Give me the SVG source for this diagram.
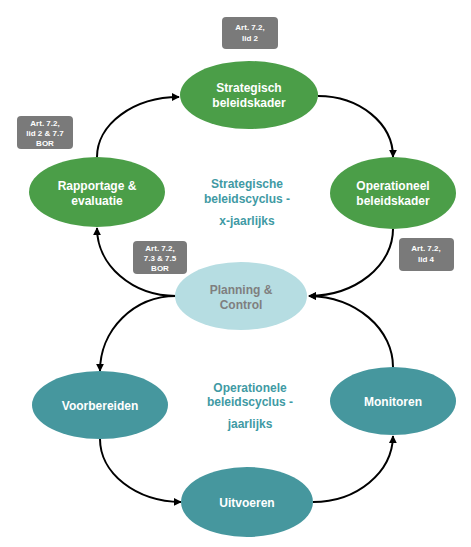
<svg xmlns="http://www.w3.org/2000/svg" width="471" height="547" viewBox="0 0 471 547">
<defs>
<style>
.green{fill:#4b9e48}
.teal{fill:#46979e}
.pc{fill:#b6dde2}
.nt{font-family:"Liberation Sans",Arial,sans-serif;font-weight:bold;font-size:12px;fill:#fff;text-anchor:middle}
.pct{font-family:"Liberation Sans",Arial,sans-serif;font-weight:bold;font-size:12px;fill:#7f7f7f;text-anchor:middle}
.ct{font-family:"Liberation Sans",Arial,sans-serif;font-weight:bold;font-size:12px;fill:#3f9aa4;text-anchor:middle}
.box{fill:#7a7a7a}
.bt{font-family:"Liberation Sans",Arial,sans-serif;font-weight:bold;font-size:8px;fill:#fff;text-anchor:middle}
.c{fill:none;stroke:#000;stroke-width:2;marker-end:url(#ah)}
</style>
<marker id="ah" viewBox="0 0 10 10" refX="9" refY="5" markerWidth="4" markerHeight="4" orient="auto" markerUnits="strokeWidth">
<path d="M0,0 L10,5 L0,10 z" fill="#000"/>
</marker>
</defs>
<rect width="471" height="547" fill="#fff"/>
<g id="connectors">
<path class="c" d="M97,157 A82,60 0 0,1 179,97"/>
<path class="c" d="M318,96 A75,61 0 0,1 393,157"/>
<path class="c" d="M393,229 A85,67 0 0,1 309,296"/>
<path class="c" d="M176,296 A79,68 0 0,1 97,228"/>
<path class="c" d="M176,296 A76,75 0 0,0 100,371"/>
<path class="c" d="M100,439 A82,63 0 0,0 181,502"/>
<path class="c" d="M313,502 A80,67 0 0,0 393,436"/>
<path class="c" d="M393,367 A86,71 0 0,0 309,296"/>
</g>
<g id="strategisch">
<ellipse class="green" cx="249" cy="95" rx="69" ry="34"/>
<text class="nt" x="249" y="92">Strategisch</text>
<text class="nt" x="249" y="107">beleidskader</text>
</g>
<g id="rapportage">
<ellipse class="green" cx="97" cy="192" rx="68" ry="35"/>
<text class="nt" x="97" y="190">Rapportage &amp;</text>
<text class="nt" x="97" y="205">evaluatie</text>
</g>
<g id="operationeel">
<ellipse class="green" cx="393" cy="193" rx="63" ry="36"/>
<text class="nt" x="393" y="190">Operationeel</text>
<text class="nt" x="393" y="205">beleidskader</text>
</g>
<g id="planning">
<ellipse class="pc" cx="241" cy="296" rx="66" ry="34"/>
<text class="pct" x="241" y="294">Planning &amp;</text>
<text class="pct" x="241" y="309">Control</text>
</g>
<g id="voorbereiden">
<ellipse class="teal" cx="100" cy="405" rx="68" ry="34"/>
<text class="nt" x="100" y="410">Voorbereiden</text>
</g>
<g id="monitoren">
<ellipse class="teal" cx="393" cy="401" rx="63" ry="34"/>
<text class="nt" x="393" y="406">Monitoren</text>
</g>
<g id="uitvoeren">
<ellipse class="teal" cx="247" cy="502" rx="66" ry="35"/>
<text class="nt" x="247" y="507">Uitvoeren</text>
</g>
<g id="label-strategisch">
<text class="ct" x="247" y="188">Strategische</text>
<text class="ct" x="247" y="203">beleidscyclus -</text>
<text class="ct" x="247" y="225">x-jaarlijks</text>
</g>
<g id="label-operationeel">
<text class="ct" x="250" y="392">Operationele</text>
<text class="ct" x="250" y="406">beleidscyclus -</text>
<text class="ct" x="250" y="428">jaarlijks</text>
</g>
<g id="box-lid2">
<rect class="box" x="222" y="17" width="56" height="32" rx="4"/>
<text class="bt" x="250" y="30">Art. 7.2,</text>
<text class="bt" x="250" y="41">lid 2</text>
</g>
<g id="box-lid2-77">
<rect class="box" x="17" y="116" width="56" height="33" rx="4"/>
<text class="bt" x="45" y="126">Art. 7.2,</text>
<text class="bt" x="45" y="136">lid 2 &amp; 7.7</text>
<text class="bt" x="45" y="146">BOR</text>
</g>
<g id="box-73-75">
<rect class="box" x="133" y="241" width="54" height="33" rx="4"/>
<text class="bt" x="160" y="251">Art. 7.2,</text>
<text class="bt" x="160" y="261">7.3 &amp; 7.5</text>
<text class="bt" x="160" y="271">BOR</text>
</g>
<g id="box-lid4">
<rect class="box" x="399" y="238" width="55" height="33" rx="4"/>
<text class="bt" x="426" y="251">Art. 7.2,</text>
<text class="bt" x="426" y="262">lid 4</text>
</g>
</svg>
